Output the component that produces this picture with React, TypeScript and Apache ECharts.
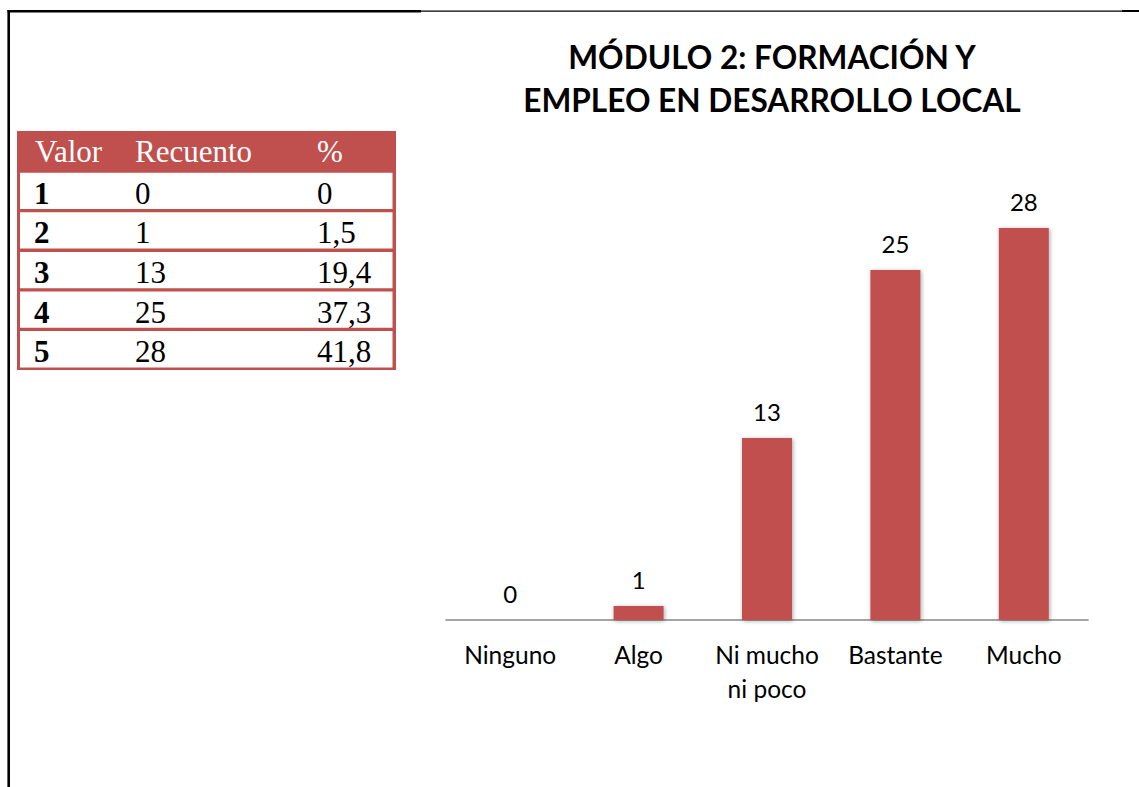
import React, { useEffect, useRef } from "react";
import * as echarts from "echarts";

const categories = ["Ninguno", "Algo", "Ni mucho\nni poco", "Bastante", "Mucho"];
const counts = [0, 1, 13, 25, 28];
const titleLines = ["MÓDULO 2: FORMACIÓN Y", "EMPLEO EN DESARROLLO LOCAL"];
const tableHeaders = ["Valor", "Recuento", "%"];
const tableValor = ["1", "2", "3", "4", "5"];
const tableRecuento = ["0", "1", "13", "25", "28"];
const tablePercent = ["0", "1,5", "19,4", "37,3", "41,8"];

const RED = "#C0504D";
const SERIF = "'Liberation Serif', 'Times New Roman', serif";
const SANS = "Lato, 'Open Sans', sans-serif";

export default function App() {
  const ref = useRef<HTMLDivElement>(null);
  useEffect(() => {
    if (!ref.current) return;
    const chart = echarts.init(ref.current, null, { renderer: "svg" });

    const colX = [34, 135, 317];
    const graphics: any[] = [];
    // frame lines
    graphics.push({ type: "line", shape: { x1: 8.7, y1: 10, x2: 8.7, y2: 787 }, style: { stroke: "#000", lineWidth: 2.6 } });
    graphics.push({ type: "line", shape: { x1: 7.5, y1: 11.2, x2: 421, y2: 11.2 }, style: { stroke: "#000", lineWidth: 2.4 } });
    graphics.push({ type: "line", shape: { x1: 421, y1: 11.2, x2: 1122, y2: 11.2 }, style: { stroke: "#000", lineWidth: 1.2 } });
    graphics.push({ type: "line", shape: { x1: 1122, y1: 11.0, x2: 1139, y2: 11.0 }, style: { stroke: "#000", lineWidth: 2 } });

    // title
    titleLines.forEach((t, i) => {
      graphics.push({
        type: "text",
        x: 772,
        y: 57 + i * 43,
        style: { text: t, fill: "#000", font: `bold 31.6px ${SANS}`, align: "center", verticalAlign: "middle" },
      });
    });

    // table
    graphics.push({ type: "rect", shape: { x: 17, y: 131, width: 379, height: 239 }, style: { fill: RED } });
    tableHeaders.forEach((h, j) => {
      graphics.push({
        type: "text",
        x: colX[j] + (j === 0 ? 1 : 0),
        y: 151.5,
        style: { text: h, fill: "#fff", font: `31px ${SERIF}`, align: "left", verticalAlign: "middle" },
      });
    });
    tableValor.forEach((v, i) => {
      const top = 172.7 + i * 39.6;
      graphics.push({ type: "rect", shape: { x: 20, y: top, width: 372.5, height: 36.3 }, style: { fill: "#fff" } });
      const base = top + 35.5;
      const cells = [v, tableRecuento[i], tablePercent[i]];
      cells.forEach((c, j) => {
        graphics.push({
          type: "text",
          x: colX[j],
          y: base - 15,
          style: {
            text: c,
            fill: "#000",
            font: `${j === 0 ? "bold " : ""}31px ${SERIF}`,
            align: "left",
            verticalAlign: "middle",
          },
        });
      });
    });

    chart.setOption({
      animation: false,
      grid: { left: 446, right: 1139 - 1088, top: 200, bottom: 787 - 620, containLabel: false },
      xAxis: {
        type: "category",
        data: categories,
        axisLine: { show: true, lineStyle: { color: "#868686", width: 1.6 } },
        axisTick: { show: false },
        axisLabel: {
          color: "#000",
          fontFamily: SANS,
          fontSize: 24.5,
          lineHeight: 34,
          margin: 17,
          interval: 0,
        },
      },
      yAxis: {
        type: "value",
        min: 0,
        max: 30,
        show: false,
        splitLine: { show: false },
      },
      series: [
        {
          type: "bar",
          data: counts,
          barWidth: 50,
          itemStyle: {
            color: RED,
            shadowBlur: 4,
            shadowColor: "rgba(0,0,0,0.35)",
            shadowOffsetX: 1,
            shadowOffsetY: 1,
          },
          label: {
            show: true,
            position: "top",
            distance: 15,
            color: "#000",
            fontFamily: SANS,
            fontSize: 24,
          },
        },
      ],
      graphic: graphics,
    });
    return () => chart.dispose();
  }, []);
  return (
    <div
      ref={ref}
      style={{ position: "absolute", left: 0, top: 0, width: 1139, height: 787, background: "#fff" }}
    />
  );
}
